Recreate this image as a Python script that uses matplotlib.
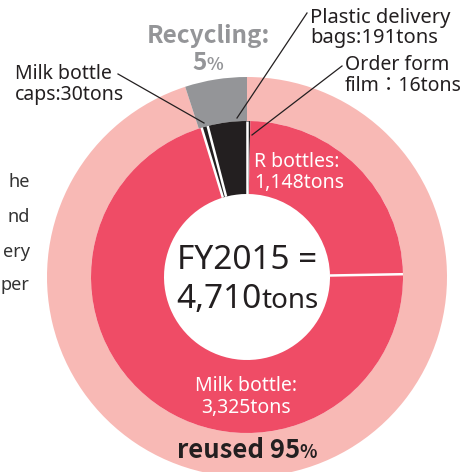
import matplotlib
matplotlib.use("Agg")
import matplotlib.pyplot as plt
import numpy as np

plt.rcParams['font.family'] = ['Noto Sans', 'Noto Sans CJK JP', 'DejaVu Sans']
BOLD_FAMILY = ['Noto Sans CJK JP', 'DejaVu Sans']

# ---- data ----
outer_labels = ["reused", "Recycling"]
outer_share = [95, 5]                     # percent
inner_labels = ["Order form film", "R bottles", "Milk bottle",
                "Milk bottle caps", "Plastic delivery bags"]
inner_tons = [16, 1148, 3325, 30, 191]
total_tons = 4710
fiscal_year = "FY2015"

PINK = '#f8b9b5'
RED = '#ef4c66'
GRAY = '#949598'
BLACK = '#231f20'
TXT = '#231f20'

W, H = 473, 472
fig = plt.figure(figsize=(W / 100, H / 100), dpi=100)
ax = fig.add_axes([0, 0, 1, 1])

def Y(y):
    return H - y

cx, cy = 247, Y(277)
R_out, R_in, R_hole = 200, 156, 83

ax.pie(outer_share, colors=[PINK, GRAY], startangle=90, counterclock=False,
       radius=R_out, center=(cx, cy), frame=True,
       wedgeprops=dict(width=R_out - R_in, linewidth=0))
inner_colors = [BLACK, RED, RED, BLACK, BLACK]
ax.pie(inner_tons, colors=inner_colors, startangle=90, counterclock=False,
       radius=R_in, center=(cx, cy), frame=True,
       wedgeprops=dict(width=R_in - R_hole, linewidth=0))

# white separators between inner wedges
cum = np.concatenate([[0], np.cumsum(inner_tons)])
bounds = 90 - 360 * cum / cum[-1]
for i, a in enumerate(bounds[:-1]):
    if i == 1:  # no separator between film and R bottles
        continue
    t = np.deg2rad(a)
    ax.plot([cx + R_hole * np.cos(t), cx + R_in * np.cos(t)],
            [cy + R_hole * np.sin(t), cy + R_in * np.sin(t)],
            color='white', lw=1.8, solid_capstyle='butt', zorder=3)

ax.set_xlim(0, W)
ax.set_ylim(0, H)
ax.set_aspect('equal')
ax.axis('off')

renderer = fig.canvas.get_renderer()

def mixed(parts, xc, yb, color, family=None):
    objs = []
    for s, size, weight in parts:
        kw = dict(family=family) if family else {}
        objs.append(ax.text(0, yb, s, fontsize=size, fontweight=weight,
                            color=color, va='baseline', ha='left', zorder=5, **kw))
    widths = [o.get_window_extent(renderer).width for o in objs]
    x = xc - sum(widths) / 2
    for o, w in zip(objs, widths):
        o.set_x(x)
        x += w

# leader lines
for (x0, y0), (x1, y1) in [((118, 74), (204, 123)),
                           ((307, 13), (237, 118)),
                           ((342, 66), (252, 135))]:
    ax.plot([x0, x1], [Y(y0), Y(y1)], color=BLACK, lw=0.9, zorder=4)

# labels
ax.text(208, Y(43.5), f"{outer_labels[1]}:", fontsize=17.5, fontweight='bold',
        color=GRAY, ha='center', va='baseline', family=BOLD_FAMILY)
mixed([(f"{outer_share[1]}", 17.5, 'bold'), ("%", 12.5, 'bold')], 208, Y(70), GRAY,
      family=BOLD_FAMILY)

FS = 14
ax.text(310, Y(23), "Plastic delivery", fontsize=14.5, color=TXT, va='baseline')
ax.text(310, Y(43), f"bags:{inner_tons[4]}tons", fontsize=14.5, color=TXT, va='baseline')
ax.text(15, Y(79), "Milk bottle", fontsize=FS, color=TXT, va='baseline')
ax.text(15, Y(100), f"caps:{inner_tons[3]}tons", fontsize=FS, color=TXT, va='baseline')
ax.text(345, Y(70), "Order form", fontsize=FS, color=TXT, va='baseline')
ax.text(345, Y(91), f"film\uff1a{inner_tons[0]}tons", fontsize=FS, color=TXT, va='baseline')

ax.text(254, Y(166.7), "R bottles:", fontsize=FS, color='white', va='baseline')
ax.text(254, Y(188.3), f"{inner_tons[1]:,}tons", fontsize=FS, color='white', va='baseline')

ax.text(246, Y(390.7), "Milk bottle:", fontsize=FS, color='white', va='baseline', ha='center')
ax.text(246, Y(413), f"{inner_tons[2]:,}tons", fontsize=FS, color='white', va='baseline', ha='center')

ax.text(247, Y(269), f"{fiscal_year} =", fontsize=24, color=TXT, va='baseline', ha='center')
mixed([(f"{total_tons:,}", 24, 'normal'), ("tons", 20, 'normal')], 247, Y(308), TXT)

mixed([(f"{outer_labels[0]} {outer_share[0]}", 18.5, 'bold'), ("%", 13, 'bold')],
      247, Y(458), TXT, family=BOLD_FAMILY)

# cut-off paragraph fragments at the left edge
for s, yb in [("he", 187), ("nd", 222), ("ery", 257), ("per", 290)]:
    ax.text(29.5, Y(yb), s, fontsize=13, color='#333333', va='baseline', ha='right')

fig.savefig("out.png", dpi=100)
